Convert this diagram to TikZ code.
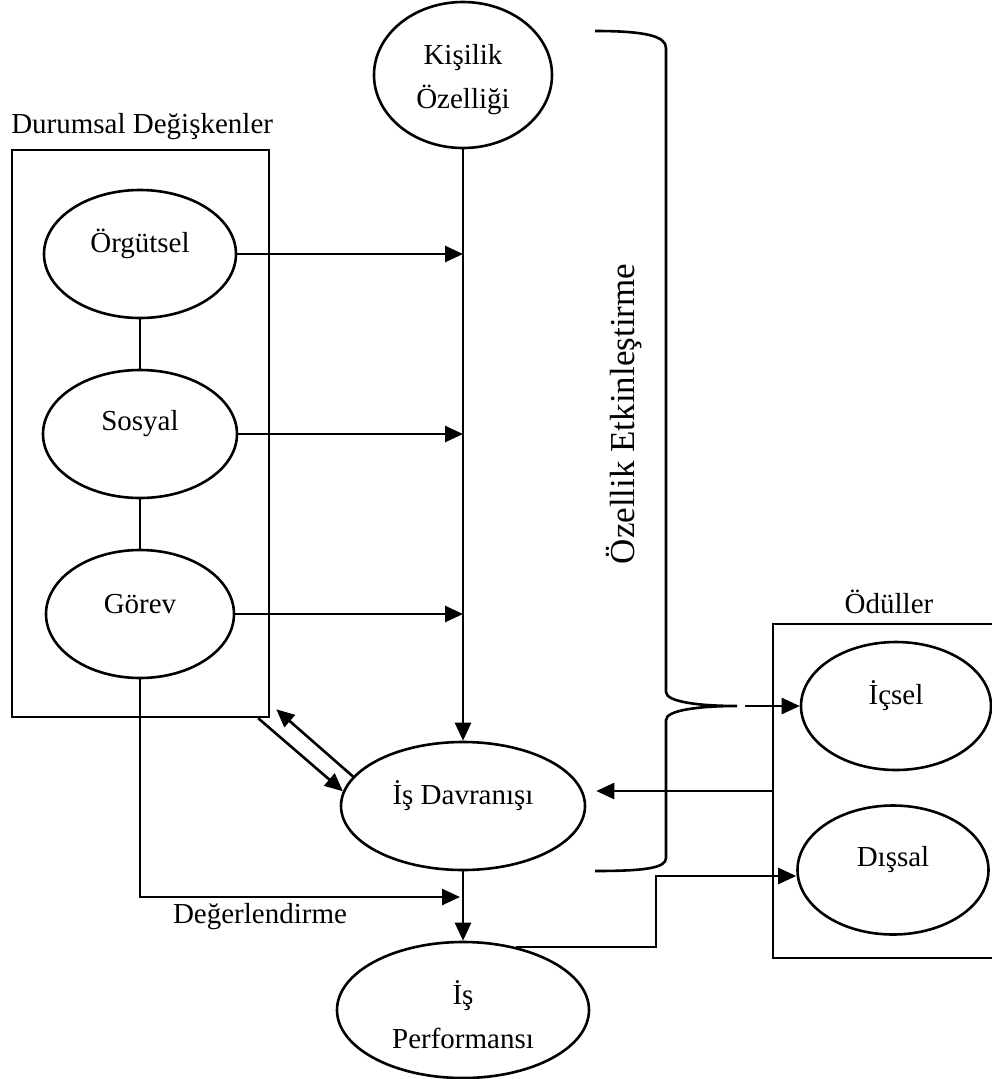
\documentclass[tikz,border=0pt]{standalone}
\usepackage{fontspec}
\setmainfont{Liberation Serif}
\usetikzlibrary{shapes.geometric,arrows.meta}
\tikzset{
    kutu/.style={draw, rectangle, inner sep=0pt},
    oval/.style 2 args={draw, ellipse, inner sep=0pt, minimum width=#1, minimum height=#2},
    yazi/.style={label={[anchor=base, yshift=10pt, align=center]center:#1}},
    ikisatir/.style={label={[anchor=base, yshift=-5pt, align=center]center:#1}},
}
\begin{document}
\begin{tikzpicture}[x=1pt, y=-1pt, font=\fontsize{29}{44}\selectfont, line width=2.6pt, >={Triangle[length=18pt,width=16pt]}]
    \useasboundingbox (0,0) rectangle (992,1079);
    % kutular
    \node[kutu, minimum width=257pt, minimum height=567pt] (durumsal) at (140.5,433.5) {};
    \node[anchor=base west, inner sep=0pt] (durumsalbaslik) at (10,133) {Durumsal Değişkenler};
    \node[kutu, minimum width=230pt, minimum height=334pt] (oduller) at (888,791) {};
    \node[anchor=base] (odullerbaslik) at (889,613) {Ödüller};
    % ovaller
    \node[oval={178pt}{146pt}, ikisatir={Kişilik\\Özelliği}] (kisilik) at (463,75) {};
    \node[oval={192pt}{128pt}, yazi=Örgütsel] (orgutsel) at (140,254) {};
    \node[oval={194pt}{128pt}, yazi=Sosyal] (sosyal) at (140,434) {};
    \node[oval={188pt}{128pt}, yazi=Görev] (gorev) at (140,614) {};
    \node[oval={244pt}{128pt}, yazi=İş Davranışı] (davranis) at (463,806) {};
    \node[oval={252pt}{136pt}, ikisatir={İş\\Performansı}] (performans) at (463,1010) {};
    \node[oval={190pt}{128pt}, yazi=İçsel] (icsel) at (896,706) {};
    \node[oval={191pt}{129pt}, yazi=Dışsal] (dissal) at (893,870) {};
    \node[anchor=base] (degerlendirme) at (260,923) {Değerlendirme};
    \node[rotate=90, font=\fontsize{35}{40}\selectfont] (etkinlestirme) at (624,414) {Özellik Etkinleştirme};
    % oklar
    \draw[->] (kisilik.south) -- (davranis.north);
    \draw[->] (orgutsel.east) -- (orgutsel.east -| kisilik.south);
    \draw[->] (sosyal.east) -- (sosyal.east -| kisilik.south);
    \draw[->] (gorev.east) -- (gorev.east -| kisilik.south);
    \draw (orgutsel.south) -- (sosyal.north);
    \draw (sosyal.south) -- (gorev.north);
    \draw[->] (davranis.165) -- ([shift={(6,-9)}]durumsal.south east);
    \draw[->] ([xshift=-12pt]durumsal.south east) -- (davranis.173);
    \coordinate (degerlendirmeucu) at (460,897);
    \draw[->] (gorev.south) |- (degerlendirmeucu);
    \draw[->] (davranis.south) -- (performans.north);
    \coordinate (kirilma) at (656,876);
    \draw[->] (performans.50) -| (kirilma) -- (kirilma -| dissal.west);
    \draw[->, shorten >=10pt] (oduller.west) -- (oduller.west -| davranis.east);
    % parantez
    \coordinate (parantezucu) at (737,706);
    \draw (595,31) .. controls (645,31) and (666,36) .. (666,48) -- (666,692)
        .. controls (666,702) and (700,706) .. (parantezucu)
        .. controls (700,706) and (666,710) .. (666,720) -- (666,858)
        .. controls (666,868) and (645,871) .. (595,871);
    \draw[->] ([xshift=8pt]parantezucu) -- (parantezucu -| icsel.west);
\end{tikzpicture}
\end{document}
